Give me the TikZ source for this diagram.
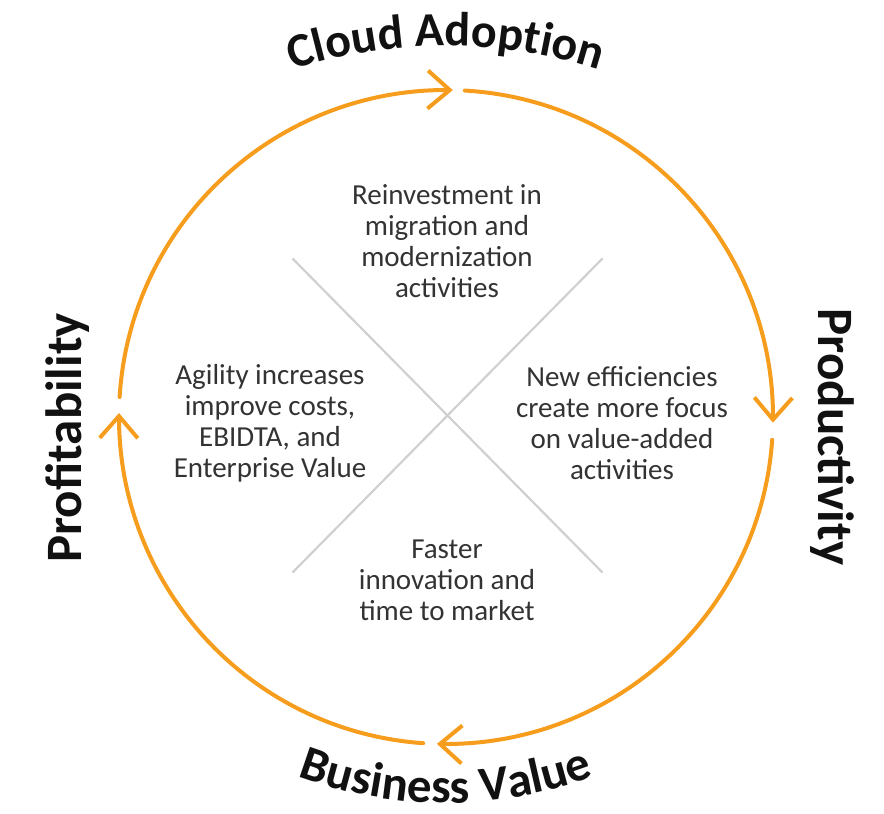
\documentclass[tikz,border=0pt]{standalone}
\usepackage{fontspec}
\setmainfont{Carlito}
\newfontfamily\ttlfont{Carlito}
\usetikzlibrary{arrows.meta,bending,decorations.text}
\definecolor{ring}{RGB}{247,157,30}
\definecolor{crossgray}{RGB}{208,208,208}
\definecolor{bodytext}{RGB}{51,51,51}
\definecolor{ttl}{RGB}{17,17,17}
\begin{document}
\begin{tikzpicture}[x=1pt,y=1pt,
  ringarc/.style={draw=ring, line width=4pt, line cap=round,
    -{Straight Barb[length=22pt,width=38pt,line width=4pt,flex]}},
  crossline/.style={draw=crossgray, line width=2.2pt},
  bodybox/.style={align=center, text=bodytext, inner sep=0pt,
    font=\fontsize{29}{31}\selectfont},
  sidetitle/.style={text=ttl, inner sep=0pt, anchor=base,
    font=\ttlfont\bfseries\fontsize{51}{51}\selectfont},
  curvetitle/.style={decorate, decoration={text along path, text align=center,
    text color=ttl, text={#1}}}
]
\useasboundingbox (-446,-397) rectangle (438,417);
\coordinate (c) at (0,0);
\coordinate (x0) at (1.5,1.5);

% ring arcs, clockwise
\draw[ringarc] (c) ++(86.7:327pt) arc[start angle=86.7, end angle=-1, radius=327pt];
\draw[ringarc] (c) ++(-4:327pt) arc[start angle=-4, end angle=-91.6, radius=327pt];
\draw[ringarc] (c) ++(-94:327pt) arc[start angle=-94, end angle=-180.7, radius=327pt];
\draw[ringarc] (c) ++(-183.5:327pt) arc[start angle=-183.5, end angle=-271.2, radius=327pt];

% cross lines
\path (x0) ++(-155,157) coordinate (tl) ++(310,-314) coordinate (br);
\path (x0) ++(155,157) coordinate (tr) ++(-310,-314) coordinate (bl);
\draw[crossline] (tl) -- (br);
\draw[crossline] (tr) -- (bl);

% body texts
\node[bodybox] (top) at (1,176) {Reinvestment in\\migration and\\modernization\\activities};
\node[bodybox] (left) at (-176,-6) {Agility increases\\improve costs,\\EBIDTA, and\\Enterprise Value};
\node[bodybox] (right) at (176,-6) {New efficiencies\\create more focus\\on value-added\\activities};
\node[bodybox] (bottom) at (1,-163) {Faster\\innovation and\\time to market};

% titles
\path[curvetitle={|\ttlfont\bfseries\fontsize{48}{48}\selectfont|Cloud Adoption}]
  (0,-129) ++(118:500pt) arc[start angle=118, end angle=62, radius=500pt];
\path[curvetitle={|\ttlfont\bfseries\fontsize{49}{49}\selectfont|Business Value}]
  (0,34) ++(242:420pt) arc[start angle=242, end angle=298, radius=420pt];
\node[sidetitle, rotate=90] (profit) at (-364,-21) {Profitability};
\node[sidetitle, rotate=-90] (prod) at (372,-20) {Productivity};
\end{tikzpicture}
\end{document}
